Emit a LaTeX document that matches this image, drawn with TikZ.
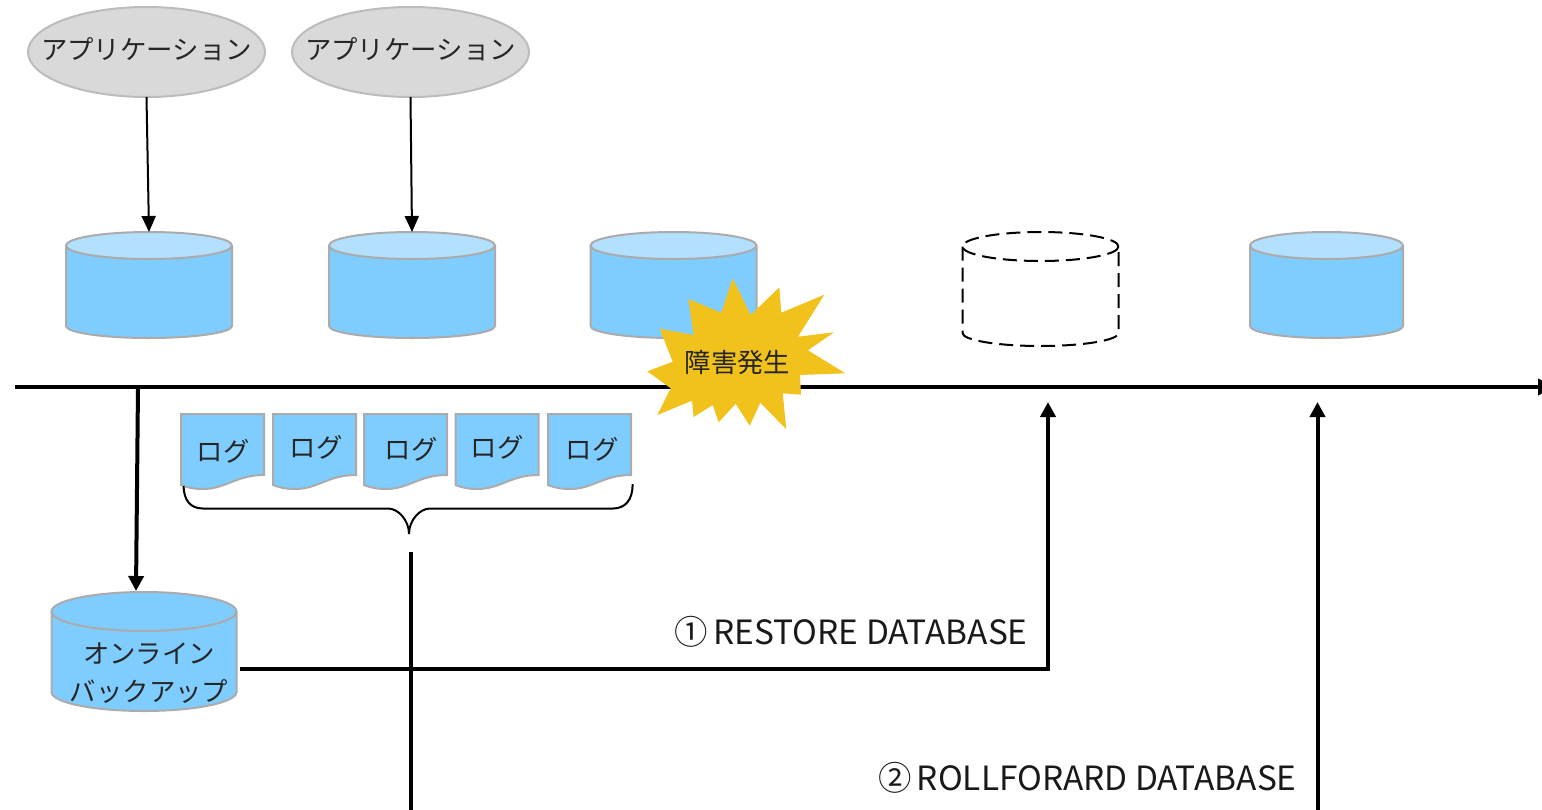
\documentclass[tikz,border=0pt]{standalone}
\usepackage{fontspec}
\setmainfont{Noto Sans CJK JP}
\usetikzlibrary{arrows.meta,shapes.geometric}
\definecolor{dbbody}{HTML}{7FCCFF}
\definecolor{dbtop}{HTML}{B3E0FF}
\definecolor{edgegray}{HTML}{ABABAB}
\definecolor{appgray}{HTML}{D9D9D9}
\definecolor{burstyellow}{HTML}{F1C21B}
\tikzset{
    jptext/.style={font=\fontsize{13.2}{19}\selectfont, text=black!85},
    labeltext/.style={font=\fontsize{16.7}{20}\selectfont, text=black!90, inner sep=0pt},
    appnode/.style={ellipse, draw=edgegray!80, fill=appgray, line width=1pt, minimum width=118.5pt, minimum height=45pt, inner sep=0pt, outer sep=0pt},
    dbplain/.style={draw=edgegray, fill=dbbody, line width=1pt},
    dbsolid/.style={dbplain, dbcap/.style={fill=dbtop}},
    dbdash/.style={draw=black, line width=1pt, dash pattern=on 7pt off 3.5pt},
    thinarrow/.style={draw=black, line width=1pt, -{Triangle[length=8pt, width=7pt]}},
    thickarrow/.style={draw=black, line width=2pt, -{Triangle[length=7.5pt, width=7.5pt]}},
}
% style, name, centre x, top, bottom, x radius, top y radius, bottom y radius
\newcommand{\dbshape}[8]{
    \pgfmathsetmacro\dbheight{(#5-#4)/2}
    \node[inner sep=0pt, outer sep=0pt, minimum width=#6 pt, minimum height=\dbheight pt] (#2) at (#3, {(#4+#5)/2}) {};
    \draw[#1] ({#3-#6}, {#4+#7}) -- ({#3-#6}, {#5-#8}) arc[start angle=180, end angle=0, x radius=#6, y radius=#8] -- ({#3+#6}, {#4+#7});
    \draw[dbcap/.style={}, #1, dbcap] (#3, {#4+#7}) ellipse[x radius=#6, y radius=#7];
}
\begin{document}
\begin{tikzpicture}[x=0.5pt, y=-0.5pt]
    \useasboundingbox (0, 0) rectangle (1542, 809);

    \node[appnode] (app1) at (146.5, 52) {};
    \node[appnode] (app2) at (410.5, 52) {};
    \node[jptext] (apptext1) at (146.5, 49) {アプリケーション};
    \node[jptext] (apptext2) at (410.5, 49) {アプリケーション};

    \dbshape{dbsolid}{db1}{149}{232}{338}{83}{13.5}{12}
    \dbshape{dbsolid}{db2}{412}{232}{338}{83}{13.5}{12}
    \dbshape{dbsolid}{db3}{673.5}{232}{338}{83}{13.5}{12}
    \dbshape{dbdash}{db4}{1040.5}{232}{346}{78}{14.5}{13}
    \dbshape{dbsolid}{db5}{1326.5}{232}{338}{76.5}{13.5}{12}
    \dbshape{dbplain}{backup}{144}{592}{711}{92.5}{19.5}{19}
    \node[jptext] (backuptop) at (149, 654) {オンライン};
    \node[jptext] (backupbottom) at (149, 692) {バックアップ};

    \draw[thinarrow] (app1.south) -- (db1.north);
    \draw[thinarrow] (app2.south) -- (db2.north);

    % time line
    \coordinate (timestart) at (15, 387);
    \coordinate (timeend) at (1554, 387);
    \draw[line width=2pt, -{Triangle[length=8pt, width=8pt]}] (timestart) -- (timeend);

    % failure
    \fill[burstyellow] (732.7, 278.3) -- (750.7, 315) -- (779.3, 287.3) -- (781.3, 312.7)
        -- (824.3, 294.7) -- (798, 336.7) -- (834, 332.3) -- (808, 350.3) -- (845.3, 373.3)
        -- (800, 375) -- (801, 394.7) -- (782.7, 393.3) -- (786.3, 429.3) -- (760.3, 402.7)
        -- (749.7, 425.7) -- (735.7, 403.7) -- (718.7, 422.3) -- (712.7, 405) -- (693.7, 417)
        -- (692, 400.7) -- (657.3, 415) -- (670.7, 388.3) -- (647.3, 371.3) -- (672.7, 361.7)
        -- (659.7, 328.7) -- (693.7, 335) -- (688.3, 299) -- (721.3, 312.7) -- cycle;
    \node[jptext] (failure) at (737.5, 363) {障害発生};

    % log files
    \foreach \i/\x/\tx/\ty in {1/181/223/451, 2/273/316/447, 3/364/411/449, 4/455.5/497/447, 5/548/592/449} {
        \begin{scope}[shift={(\x, 414)}]
            \draw[edgegray, fill=dbbody, line width=1pt] (0, 0) -- (83, 0) -- (83, 61)
                .. controls (55, 61) and (45, 75) .. (22, 75)
                .. controls (13, 75) and (6, 73.5) .. (0, 71) -- cycle;
        \end{scope}
        \node[jptext] (log\i) at (\tx, \ty) {ログ};
    }

    % brace under the logs
    \coordinate (bracetip) at (409, 534);
    \draw[black, line width=1pt] (183.5, 486) .. controls (184, 500) and (190, 508.5) .. (203, 508.5)
        -- (388, 508.5) .. controls (398, 508.5) and (409, 520) .. (bracetip)
        .. controls (409, 520) and (420, 508.5) .. (430, 508.5)
        -- (613, 508.5) .. controls (625, 508.5) and (633, 500) .. (632.5, 484);

    \coordinate (backupstart) at (138, 387);
    \coordinate (backuptip) at (136, 591);
    \draw[thickarrow] (backupstart) -- (backuptip);

    % restore
    \coordinate (restorestart) at (240, 668.5);
    \coordinate (restoreend) at (1048, 402);
    \draw[thickarrow] (restorestart) -- (1048, 668.5) -- (restoreend);
    \node[labeltext, anchor=east] (restore) at (1028, 632) {①\hspace{-1pt} RESTORE DATABASE};

    % rollforward
    \coordinate (logstart) at (410.5, 552);
    \coordinate (logend) at (410.5, 815);
    \draw[black, line width=2pt] (logstart) -- (logend);
    \coordinate (rollstart) at (1317.5, 815);
    \coordinate (rollend) at (1317.5, 402);
    \draw[thickarrow] (rollstart) -- (rollend);
    \node[labeltext, anchor=east] (rollforward) at (1297, 778) {②\hspace{-1pt} ROLLFORARD DATABASE};
\end{tikzpicture}
\end{document}
